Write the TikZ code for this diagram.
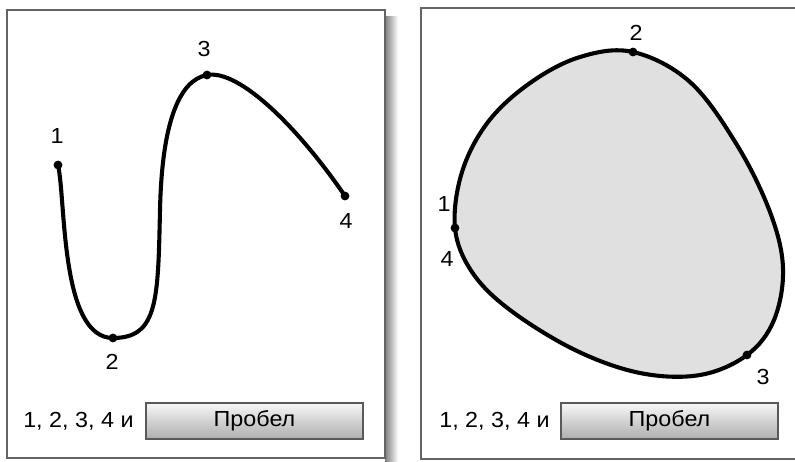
\documentclass[tikz,border=0pt]{standalone}
\usepackage{fontspec}
\setmainfont{Liberation Sans}[FakeStretch=1.07]
\usetikzlibrary{positioning}
\definecolor{framegray}{RGB}{100,100,100}
\definecolor{fillgray}{RGB}{224,224,224}

\begin{document}
\begin{tikzpicture}[
    x=0.025cm, y=-0.025cm,
    font=\fontsize{15.5}{18}\selectfont,
    panel/.style={draw=framegray, line width=0.9pt, fill=white},
    curve/.style={line width=2.9pt, line cap=round, line join=round},
    dot/.style={circle, fill=black, inner sep=0pt, minimum size=0.22cm},
    num/.style={inner sep=0pt},
    key/.style={draw=black!65, line width=1pt, top color=black!3, bottom color=black!32, minimum width=5.425cm, minimum height=0.9cm, inner sep=0pt}
]
\clip (0,0) rectangle (795,461);
\fill[white] (0,0) rectangle (795,461);
\shade[left color=black!50, right color=white] (385,16) rectangle (398,461);
\draw[panel] (7,10) rectangle (385,458);
\draw[panel] (421,8) rectangle (800,459);

\node[dot] (a1) at (58,165) {};
\node[dot] (a2) at (113,338) {};
\node[dot] (a3) at (207,75) {};
\node[dot] (a4) at (345,196) {};
\draw[curve] (a1.center) .. controls (66,200) and (60,338) .. (a2.center)
    .. controls (158,338) and (158,300) .. (160,210)
    .. controls (162,120) and (180,80) .. (a3.center)
    .. controls (240,69) and (300,130) .. (a4.center);
\node[num] (l1) at (57,136) {1};
\node[num] (l2) at (112,362) {2};
\node[num] (l3) at (204,49) {3};
\node[num] (l4) at (346,221) {4};

\coordinate (b1) at (455,228);
\coordinate (b2) at (633,52);
\coordinate (b3) at (747,355);
\draw[curve, fill=fillgray] plot[smooth cycle, tension=0.6] coordinates {
    (b1) (462,172) (488,122) (530,83) (580,57) (b2) (690,82) (737,145)
    (770,212) (783,268) (774,320) (b3) (700,375) (640,373) (575,350)
    (510,310) (472,272)};
\node[dot] (d1) at (b1) {};
\node[dot] (d2) at (b2) {};
\node[dot] (d3) at (b3) {};
\node[num] (r1) at (444,204) {1};
\node[num] (r4) at (447,259) {4};
\node[num] (r2) at (636,33) {2};
\node[num] (r3) at (763,377) {3};

\node[num, anchor=base west] (keysL) at (23,427) {1, 2, 3, 4 и};
\node[key] (spaceL) at (254.5,421) {Пробел};
\node[num, anchor=base west] (keysR) at (439,427) {1, 2, 3, 4 и};
\node[key] (spaceR) at (669.5,421) {Пробел};
\end{tikzpicture}
\end{document}
